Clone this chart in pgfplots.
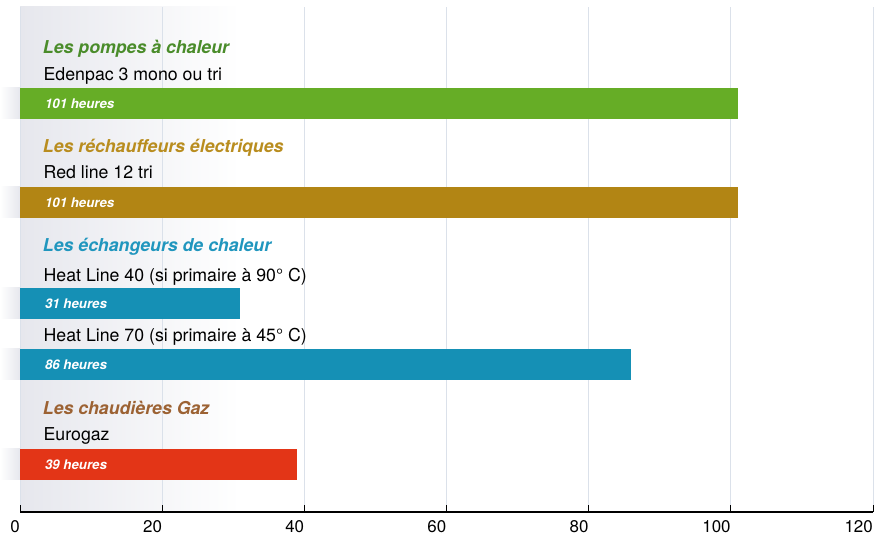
\documentclass[border=0pt]{standalone}
\usepackage{fontspec}
\setmainfont{TeX Gyre Heros}
\usepackage{pgfplots}
\pgfplotsset{compat=1.18}

\definecolor{barGreen}{HTML}{66AD26}
\definecolor{barGold}{HTML}{B28514}
\definecolor{barBlue}{HTML}{1590B5}
\definecolor{barRed}{HTML}{E33517}
\definecolor{ttlGreen}{HTML}{4A8C2A}
\definecolor{ttlGold}{HTML}{B98D1F}
\definecolor{ttlBlue}{HTML}{2096BE}
\definecolor{ttlBrown}{HTML}{9C6233}
\definecolor{bgGray}{HTML}{E6E7ED}
\definecolor{gridCol}{HTML}{DBE1EA}

\newcommand{\ttl}[1]{\fontsize{17.8}{19}\selectfont\bfseries\itshape #1}
\newcommand{\nm}[1]{\fontsize{17.8}{20}\selectfont #1}
\newcommand{\hr}[1]{\fontsize{13.3}{15}\selectfont\bfseries\itshape\color{white} #1}

\begin{document}
\begin{tikzpicture}
\begin{axis}[
    name=ax,
    set layers,
    scale only axis,
    width=853bp, height=505bp,
    xmin=0, xmax=120,
    ymin=23, ymax=528,
    xbar, bar width=31, bar shift=0pt,
    axis x line*=bottom,
    axis y line=none,
    xtick={0,20,...,120},
    ytick=\empty,
    tick align=inside,
    major tick length=7bp,
    x axis line style={black, line width=1.1bp},
    xtick style={black, line width=1bp},
    xmajorgrids,
    grid style={gridCol, line width=1bp},
    /pgf/number format/assume math mode=true,
    xticklabel style={anchor=north east, inner sep=0pt, yshift=-8bp,
        font=\fontsize{17}{17}\selectfont},
    clip=false,
]
% background gradient behind the labels
\begin{pgfonlayer}{axis background}
\fill[left color=bgGray, right color=white] (axis cs:0,23) rectangle (axis cs:31,528);
\end{pgfonlayer}
% small bands left of the axis at each bar row
\fill[left color=white, right color=bgGray] (axis cs:-2.82,416) rectangle (axis cs:0,447);
\fill[left color=white, right color=bgGray] (axis cs:-2.82,317) rectangle (axis cs:0,348);
\fill[left color=white, right color=bgGray] (axis cs:-2.82,216) rectangle (axis cs:0,247);
\fill[left color=white, right color=bgGray] (axis cs:-2.82,155) rectangle (axis cs:0,186);
\fill[left color=white, right color=bgGray] (axis cs:-2.82,55) rectangle (axis cs:0,86);

\addplot[draw=none, fill=barGreen] coordinates {(101,431.5)};
\addplot[draw=none, fill=barGold]  coordinates {(101,332.5)};
\addplot[draw=none, fill=barBlue]  coordinates {(31,231.5)};
\addplot[draw=none, fill=barBlue]  coordinates {(86,170.5)};
\addplot[draw=none, fill=barRed]   coordinates {(39,70.5)};

\node[anchor=base west, inner sep=0pt, ttlGreen] at (axis cs:3.2,481) {\ttl{Les pompes à chaleur}};
\node[anchor=base west, inner sep=0pt] at (axis cs:3.3,454.5) {\nm{Edenpac 3 mono ou tri}};
\node[anchor=base west, inner sep=0pt] at (axis cs:3.5,426.9) {\hr{101 heures}};

\node[anchor=base west, inner sep=0pt, ttlGold] at (axis cs:3.2,382) {\ttl{Les réchauffeurs électriques}};
\node[anchor=base west, inner sep=0pt] at (axis cs:3.3,356) {\nm{Red line 12 tri}};
\node[anchor=base west, inner sep=0pt] at (axis cs:3.5,327.9) {\hr{101 heures}};

\node[anchor=base west, inner sep=0pt, ttlBlue] at (axis cs:3.2,283) {\ttl{Les échangeurs de chaleur}};
\node[anchor=base west, inner sep=0pt] at (axis cs:3.3,253.5) {\nm{Heat Line 40 (si primaire à 90° C)}};
\node[anchor=base west, inner sep=0pt] at (axis cs:3.5,226.9) {\hr{31 heures}};
\node[anchor=base west, inner sep=0pt] at (axis cs:3.3,193.5) {\nm{Heat Line 70 (si primaire à 45° C)}};
\node[anchor=base west, inner sep=0pt] at (axis cs:3.5,165.9) {\hr{86 heures}};

\node[anchor=base west, inner sep=0pt, ttlBrown] at (axis cs:3.2,120) {\ttl{Les chaudières Gaz}};
\node[anchor=base west, inner sep=0pt] at (axis cs:3.3,94) {\nm{Eurogaz}};
\node[anchor=base west, inner sep=0pt] at (axis cs:3.5,65.9) {\hr{39 heures}};
\end{axis}
\pgfresetboundingbox
\path[use as bounding box] ([shift={(-20bp,-23bp)}]ax.south west) rectangle ([shift={(13bp,7bp)}]ax.north east);
\end{tikzpicture}
\end{document}
